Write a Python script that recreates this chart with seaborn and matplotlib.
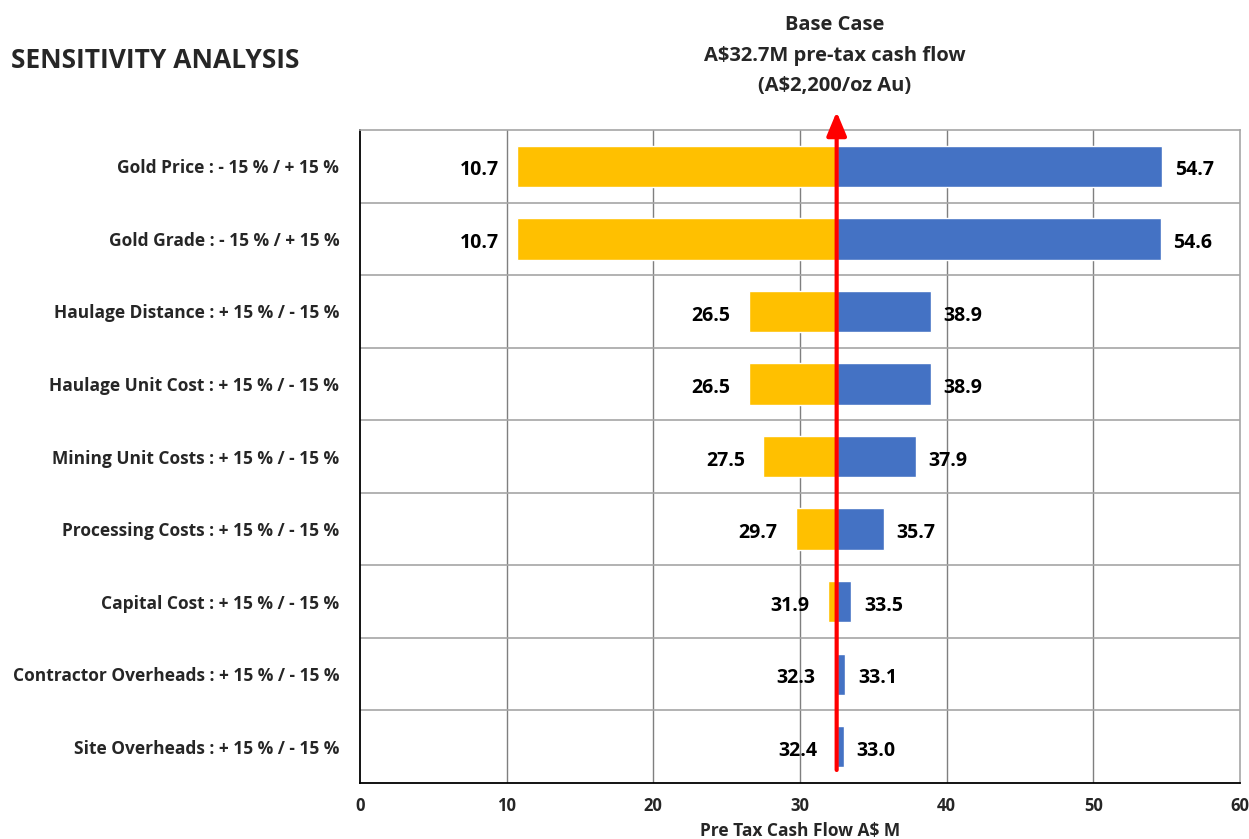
"""
Tornado chart: pre-tax cash flow sensitivity.
"""

import numpy as np
import pandas as pd
import matplotlib
matplotlib.use("Agg")
import matplotlib.pyplot as plt
import seaborn as sns

# --- Data ---
factors = [
    "Gold Price : - 15 % / + 15 %",
    "Gold Grade : - 15 % / + 15 %",
    "Haulage Distance : + 15 % / - 15 %",
    "Haulage Unit Cost : + 15 % / - 15 %",
    "Mining Unit Costs : + 15 % / - 15 %",
    "Processing Costs : + 15 % / - 15 %",
    "Capital Cost : + 15 % / - 15 %",
    "Contractor Overheads : + 15 % / - 15 %",
    "Site Overheads : + 15 % / - 15 %",
]
low_case = [10.7, 10.7, 26.5, 26.5, 27.5, 29.7, 31.9, 32.3, 32.4]
high_case = [54.7, 54.6, 38.9, 38.9, 37.9, 35.7, 33.5, 33.1, 33.0]
base_case = 32.5  # where the bars meet on the chart
x_ticks = [0, 10, 20, 30, 40, 50, 60]

ORANGE = "#FFC000"
BLUE = "#4472C4"


def draw_side(ax, starts, ends, color):
    # seaborn draws from zero, so shift each new bar to start at its own edge
    n_before = len(ax.patches)
    df = pd.DataFrame({"factor": factors, "width": np.array(ends) - np.array(starts)})
    sns.barplot(data=df, y="factor", x="width", color=color, width=0.57,
                orient="h", ax=ax, zorder=2, saturation=1)
    for patch, s in zip(ax.patches[n_before:], starts):
        patch.set_x(s)


def main():
    sns.set_theme(style="white")
    plt.rcParams["font.family"] = ["Open Sans", "DejaVu Sans"]
    plt.rcParams["font.weight"] = "bold"

    fig = plt.figure(figsize=(12.49, 8.39), dpi=100)
    ax = fig.add_axes([0.2882, 0.0667, 0.7046, 0.7783])

    draw_side(ax, low_case, [base_case] * len(factors), ORANGE)
    draw_side(ax, [base_case] * len(factors), high_case, BLUE)

    ax.set_xlim(0, 60)
    ax.set_ylim(len(factors) - 0.5, -0.5)
    ax.set_xticks(x_ticks)
    ax.set_xticklabels([str(t) for t in x_ticks], fontsize=12, fontweight="bold")
    ax.set_yticks(range(len(factors)))
    ax.set_yticklabels(factors, fontsize=12.5, fontweight="bold")
    ax.tick_params(axis="y", length=0, pad=15)
    ax.tick_params(axis="x", direction="inout", length=8, width=1, color="black", pad=6)

    # grid
    for x in x_ticks[1:-1]:
        ax.axvline(x, color="#7f7f7f", lw=1, zorder=0)
    for y in np.arange(0.5, len(factors) - 1, 1):
        ax.axhline(y, color="#a6a6a6", lw=1.2, zorder=0)

    for side in ["top", "right"]:
        ax.spines[side].set_color("#a6a6a6")
        ax.spines[side].set_linewidth(1.2)
    for side in ["left", "bottom"]:
        ax.spines[side].set_color("black")
        ax.spines[side].set_linewidth(1.3)

    ax.set_xlabel("Pre Tax Cash Flow A$ M", fontsize=12.5, fontweight="bold", labelpad=5)
    ax.set_ylabel("")

    # value labels
    for i, (lo, hi) in enumerate(zip(low_case, high_case)):
        ax.annotate(f"{lo:.1f}", xy=(lo, i), xytext=(-13, -3), textcoords="offset points",
                    ha="right", va="center", fontsize=14, fontweight="bold", color="black")
        ax.annotate(f"{hi:.1f}", xy=(hi, i), xytext=(9, -3), textcoords="offset points",
                    ha="left", va="center", fontsize=14, fontweight="bold", color="black")

    # base case arrow
    ax.annotate("", xy=(base_case, 1.028), xycoords=("data", "axes fraction"),
                xytext=(base_case, 0.02), textcoords=("data", "axes fraction"),
                arrowprops=dict(arrowstyle="-|>,head_length=1.2,head_width=0.5",
                                color="red", lw=3, shrinkA=0, shrinkB=0),
                zorder=5, annotation_clip=False)

    fig.text(0.668, 0.982, "Base Case\nA$32.7M pre-tax cash flow\n(A$2,200/oz Au)",
             ha="center", va="top", fontsize=14.5, fontweight="bold", linespacing=1.7)
    fig.text(0.009, 0.928, "SENSITIVITY ANALYSIS", ha="left", va="center",
             fontsize=19, fontweight="bold")

    fig.savefig("out.png", dpi=100)


if __name__ == "__main__":
    main()
